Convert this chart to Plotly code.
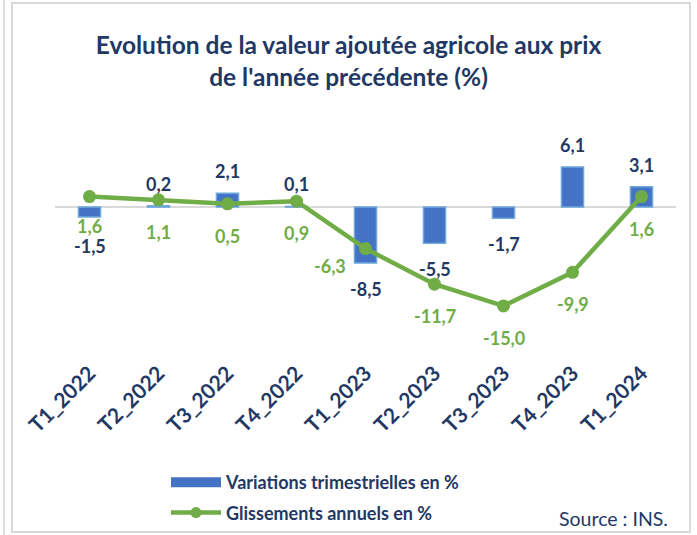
import plotly.graph_objects as go

categories = ["T1_2022", "T2_2022", "T3_2022", "T4_2022", "T1_2023",
              "T2_2023", "T3_2023", "T4_2023", "T1_2024"]
variations = [-1.5, 0.2, 2.1, 0.1, -8.5, -5.5, -1.7, 6.1, 3.1]
glissements = [1.6, 1.1, 0.5, 0.9, -6.3, -11.7, -15.0, -9.9, 1.6]

NAVY = "#1F3864"
BLUE = "#4472C4"
BLUE_EDGE = "#6FA8DC"
GREEN = "#70AD47"
FONT = "Lato"

def fr(v):
    return f"{v:.1f}".replace(".", ",")

fig = go.Figure()
fig.add_trace(go.Bar(
    x=categories, y=variations, width=0.32,
    marker=dict(color=BLUE, line=dict(color=BLUE_EDGE, width=1.5)),
    name="Variations trimestrielles en %", showlegend=False, hoverinfo="skip",
))
fig.add_trace(go.Scatter(
    x=categories, y=glissements, mode="lines+markers",
    line=dict(color=GREEN, width=4.5), marker=dict(color=GREEN, size=13),
    name="Glissements annuels en %", showlegend=False,
))
# legend entries
fig.add_trace(go.Scatter(
    x=[None], y=[None], mode="lines", line=dict(color=BLUE, width=13),
    name="<b>Variations trimestrielles en %</b>", legendgroup="a",
))
fig.add_trace(go.Scatter(
    x=[None], y=[None], mode="lines+markers", line=dict(color=GREEN, width=4.5),
    marker=dict(color=GREEN, size=11),
    name="<b>Glissements annuels en %</b>", legendgroup="b",
))

annotations = []
for i, (c, v) in enumerate(zip(categories, variations)):
    ys = 22 if v >= 0 else -26
    if i == 0:
        ys = -29
    annotations.append(dict(
        x=c, y=v, text=f"<b>{fr(v)}</b>", showarrow=False,
        yshift=ys,
        font=dict(family=FONT, size=18, color=NAVY),
    ))
for i, (c, v) in enumerate(zip(categories, glissements)):
    xs, ys = 0, -32
    if i == 0:
        ys = -29
    if i == 4:
        xs, ys = -36, -17
    annotations.append(dict(
        x=c, y=v, text=f"<b>{fr(v)}</b>", showarrow=False,
        xshift=xs, yshift=ys,
        font=dict(family=FONT, size=18, color=GREEN),
    ))

def px_x(p):
    return (p - 55) / 621

def px_y(p):
    return (356 - p) / 226

annotations.append(dict(
    xref="paper", yref="paper", x=px_x(670), y=px_y(518),
    xanchor="right", yanchor="middle", text="Source : INS.", showarrow=False,
    font=dict(family=FONT, size=19.5, color=NAVY),
))

shapes = [
    dict(type="rect", xref="paper", yref="paper",
         x0=px_x(12), x1=px_x(690), y0=px_y(532), y1=px_y(3),
         line=dict(color="#D9D9D9", width=2), fillcolor="rgba(0,0,0,0)", layer="below"),
    dict(type="line", xref="paper", yref="paper",
         x0=px_x(4), x1=px_x(4), y0=px_y(535), y1=px_y(0),
         line=dict(color="#E0E0E0", width=2)),
]

fig.update_layout(
    width=697, height=535,
    margin=dict(l=55, r=21, t=130, b=179, autoexpand=False),
    paper_bgcolor="white", plot_bgcolor="white",
    title=dict(
        text="<b>Evolution de la valeur ajoutée agricole aux prix<br>de l'année précédente (%)</b>",
        x=0.5, xanchor="center", y=1 - 54 / 535, yanchor="top",
        font=dict(family=FONT, size=24.5, color=NAVY),
    ),
    xaxis=dict(
        tickangle=-45, showgrid=False, showline=False, ticks="",
        tickfont=dict(family=FONT, size=21, color=NAVY),
        tickprefix="<b>", ticksuffix="</b>",
        range=[-0.5, 8.5], automargin=False,
    ),
    yaxis=dict(
        range=[-22.6, 11.7], showgrid=False, showticklabels=False,
        zeroline=True, zerolinecolor="#D9D9D9", zerolinewidth=2,
        automargin=False,
    ),
    legend=dict(
        x=px_x(166), xanchor="left", y=px_y(464), yanchor="top",
        font=dict(family=FONT, size=18, color=NAVY),
        traceorder="grouped", tracegroupgap=4, itemwidth=50,
        bgcolor="rgba(0,0,0,0)",
    ),
    annotations=annotations,
    shapes=shapes,
    showlegend=True,
    bargap=0.68,
)

fig.write_html("out.html", config={"displayModeBar": False},
               post_script="document.body.style.margin='0';")
